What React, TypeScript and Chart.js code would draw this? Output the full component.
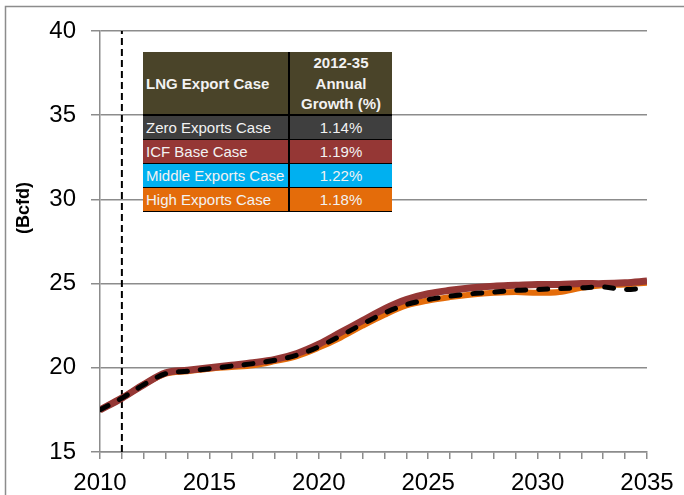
import React, { useEffect, useRef } from "react";
import { Chart, registerables } from "chart.js";

Chart.register(...registerables);

const years = [2010, 2011, 2012, 2013, 2014, 2015, 2016, 2017, 2018, 2019, 2020, 2021, 2022, 2023, 2024, 2025, 2026, 2027, 2028, 2029, 2030, 2031, 2032, 2033, 2034, 2035];

const zeroExports = [17.5, 18.2, 19.0, 19.65, 19.8, 19.95, 20.1, 20.25, 20.45, 20.75, 21.25, 21.9, 22.6, 23.25, 23.75, 24.05, 24.25, 24.4, 24.5, 24.6, 24.65, 24.7, 24.75, 24.8, 24.65, 24.75];
const icfBase = [17.5, 18.2, 19.0, 19.7, 19.85, 20.0, 20.15, 20.3, 20.5, 20.85, 21.4, 22.1, 22.8, 23.5, 24.05, 24.4, 24.6, 24.75, 24.85, 24.9, 24.95, 24.95, 25.0, 25.0, 25.05, 25.15];
const middleExports = [17.5, 18.2, 19.0, 19.7, 19.85, 20.0, 20.15, 20.3, 20.5, 20.85, 21.38, 22.08, 22.78, 23.48, 24.03, 24.38, 24.58, 24.73, 24.83, 24.88, 24.93, 24.93, 24.98, 24.98, 25.03, 25.13];
const highExports = [17.5, 18.2, 19.0, 19.65, 19.8, 19.95, 20.05, 20.15, 20.4, 20.7, 21.2, 21.8, 22.5, 23.15, 23.7, 24.0, 24.2, 24.35, 24.45, 24.5, 24.45, 24.5, 24.75, 24.9, 24.95, 25.05];

const markerYear = [2011, 2011];
const markerRange = [15, 40];

const tableCases = ["Zero Exports Case", "ICF Base Case", "Middle Exports Case", "High Exports Case"];
const tableGrowth = ["1.14%", "1.19%", "1.22%", "1.18%"];
const tableColors = ["#3f3f3f", "#953735", "#00b0f0", "#e46c0a"];

const pts = (vals: number[]) => years.map((x, i) => ({ x, y: vals[i] }));

const FONT = '"Liberation Sans", Arial, sans-serif';

const decor = {
  id: "decor",
  beforeDraw(chart: any) {
    const ctx = chart.ctx;
    ctx.save();
    ctx.fillStyle = "#fff";
    ctx.fillRect(0, 0, chart.width, chart.height);
    ctx.strokeStyle = "#8c8c8c";
    ctx.lineWidth = 1.5;
    ctx.beginPath();
    ctx.moveTo(5.5, chart.height);
    ctx.lineTo(5.5, 6.5);
    ctx.lineTo(chart.width, 6.5);
    ctx.stroke();
    ctx.translate(24, 208);
    ctx.rotate(-Math.PI / 2);
    ctx.font = "bold 18px " + FONT;
    ctx.fillStyle = "#000";
    ctx.textAlign = "center";
    ctx.textBaseline = "middle";
    ctx.fillText("(Bcfd)", 0, 0);
    ctx.restore();
  },
};

export default function App() {
  const ref = useRef<HTMLCanvasElement>(null);
  useEffect(() => {
    if (!ref.current) return;
    const chart = new Chart(ref.current, {
      type: "line",
      data: {
        datasets: [
          {
            label: "Zero Exports Case",
            data: pts(zeroExports),
            borderColor: "#000",
            borderWidth: 5,
            borderDash: [9, 13],
            borderCapStyle: "round",
            pointRadius: 0,
            tension: 0.35,
          },
          {
            label: "ICF Base Case",
            data: pts(icfBase),
            borderColor: "#953735",
            borderWidth: 7,
            pointRadius: 0,
            tension: 0.35,
          },
          {
            label: "High Exports Case",
            data: pts(highExports),
            borderColor: "#e46c0a",
            borderWidth: 6,
            pointRadius: 0,
            tension: 0.35,
          },
          {
            label: "Middle Exports Case",
            data: pts(middleExports),
            borderColor: "#00b0f0",
            borderWidth: 5,
            pointRadius: 0,
            tension: 0.35,
          },
          {
            label: "marker",
            data: markerYear.map((x, i) => ({ x, y: markerRange[i] })),
            borderColor: "#000",
            borderWidth: 2,
            borderDash: [7, 4],
            pointRadius: 0,
            tension: 0,
          },
        ],
      },
      options: {
        responsive: false,
        animation: false,
        devicePixelRatio: 1,
        layout: { padding: { top: 31, right: 37, left: 0, bottom: 0 } },
        plugins: { legend: { display: false }, tooltip: { enabled: false } },
        scales: {
          x: {
            type: "linear",
            min: 2010,
            max: 2035,
            afterFit: (s: any) => { s.height = 43; },
            ticks: {
              stepSize: 1,
              autoSkip: false,
              maxRotation: 0,
              padding: 10,
              color: "#000",
              font: { family: FONT, size: 24 },
              callback: (v: any) => (Number(v) % 5 === 0 ? String(v) : ""),
            },
            grid: { drawOnChartArea: false, drawTicks: true, tickLength: 7, color: "#8c8c8c", lineWidth: 1.5 },
            border: { color: "#8c8c8c", width: 1.5 },
          },
          y: {
            min: 15,
            max: 40,
            afterFit: (s: any) => { s.width = 100; },
            ticks: {
              stepSize: 5,
              padding: 15,
              color: "#000",
              font: { family: FONT, size: 24 },
            },
            grid: { color: "#8c8c8c", lineWidth: 1.5, tickLength: 9 },
            border: { color: "#8c8c8c", width: 1.5 },
          },
        },
      },
      plugins: [decor],
    } as any);
    return () => chart.destroy();
  }, []);

  const cell: React.CSSProperties = {
    color: "#f2f2f2",
    fontFamily: FONT,
    fontSize: 15,
    boxSizing: "border-box",
    overflow: "hidden",
    whiteSpace: "nowrap",
  };

  return (
    <div style={{ position: "fixed", left: 0, top: 0, width: 684, height: 495, background: "#fff" }}>
      <canvas ref={ref} width={684} height={495} style={{ width: 684, height: 495, display: "block" }} />
      <div
        style={{
          position: "absolute",
          left: 143,
          top: 52,
          width: 249,
          background: "#000",
          padding: 0,
        }}
      >
        <div style={{ display: "flex", height: 62, borderBottom: "2px solid #000" }}>
          <div
            style={{
              ...cell,
              width: 147,
              background: "#4a4429",
              fontWeight: "bold",
              display: "flex",
              alignItems: "center",
              paddingLeft: 3,
              borderRight: "2px solid #000",
            }}
          >
            LNG Export Case
          </div>
          <div
            style={{
              ...cell,
              flex: 1,
              background: "#4a4429",
              fontWeight: "bold",
              textAlign: "center",
              lineHeight: "20.5px",
              paddingTop: 1,
              whiteSpace: "normal",
            }}
          >
            2012-35
            <br />
            Annual
            <br />
            Growth (%)
          </div>
        </div>
        {tableCases.map((c, i) => (
          <div key={c} style={{ display: "flex", height: 23, borderBottom: i < 3 ? "1.5px solid #000" : "1px solid #000" }}>
            <div
              style={{
                ...cell,
                width: 147,
                background: tableColors[i],
                display: "flex",
                alignItems: "center",
                paddingLeft: 3,
                borderRight: "2px solid #000",
              }}
            >
              {c}
            </div>
            <div
              style={{
                ...cell,
                flex: 1,
                background: tableColors[i],
                display: "flex",
                alignItems: "center",
                justifyContent: "center",
              }}
            >
              {tableGrowth[i]}
            </div>
          </div>
        ))}
      </div>
    </div>
  );
}
